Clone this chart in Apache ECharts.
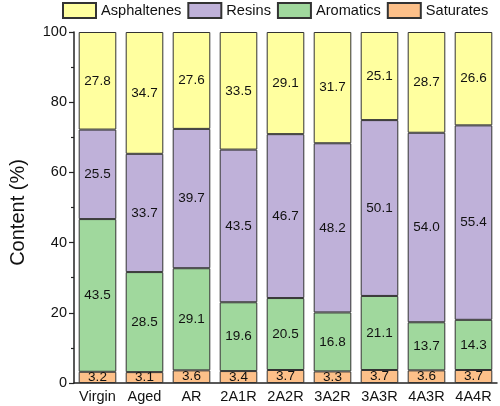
<!DOCTYPE html>
<html><head><meta charset="utf-8">
<script src="https://cdn.jsdelivr.net/npm/echarts@6/dist/echarts.min.js"></script>
<style>html,body{margin:0;padding:0;background:#fff}#c{width:500px;height:406px}</style>
</head><body><div id="c"></div>
<script>
const categories = ['Virgin','Aged','AR','2A1R','2A2R','3A2R','3A3R','4A3R','4A4R'];
const saturates = [3.2,3.1,3.6,3.4,3.7,3.3,3.7,3.6,3.7];
const aromatics = [43.5,28.5,29.1,19.6,20.5,16.8,21.1,13.7,14.3];
const resins = [25.5,33.7,39.7,43.5,46.7,48.2,50.1,54.0,55.4];
const asphaltenes = [27.8,34.7,27.6,33.5,29.1,31.7,25.1,28.7,26.6];
const yTicks = [0,20,40,60,80,100];

const font = 'Arial, "Liberation Sans", sans-serif';
function mk(name, data, color){
  return {name, type:'bar', stack:'t', data, barWidth:'80%',
    itemStyle:{color, borderColor:'#333', borderWidth:1},
    label:{show:true, position:'inside', color:'#111', fontSize:13.5, fontFamily:font,
      formatter:p=>p.value.toFixed(1)}};
}
const chart = echarts.init(document.getElementById('c'), null, {renderer:'canvas'});
chart.setOption({
  animation:false,
  legend:{top:2, left:62, width:460, padding:0, itemWidth:33, itemHeight:15, itemGap:6, icon:'rect',
    textStyle:{fontSize:14.6, fontFamily:font, color:'#111'},
    data:['Asphaltenes','Resins','Aromatics','Saturates']},
  grid:{left:58, right:3, top:32, bottom:23, containLabel:false},
  xAxis:{type:'category', data:categories,
    axisLine:{lineStyle:{color:'#222', width:1.5}}, axisTick:{show:false},
    axisLabel:{fontSize:14.5, fontFamily:font, color:'#111', margin:6, interval:0}},
  yAxis:{type:'value', min:yTicks[0], max:yTicks[yTicks.length-1], interval:20,
    name:'Content (%)', nameLocation:'middle', nameGap:46,
    nameTextStyle:{fontSize:20, fontFamily:font, color:'#111', padding:[0,10,0,0]},
    axisLine:{show:true, lineStyle:{color:'#222', width:1.5}},
    axisTick:{show:true, inside:false, length:5, lineStyle:{color:'#222', width:1.2}},
    minorTick:{show:true, splitNumber:2, length:3, lineStyle:{color:'#222', width:1.2}},
    splitLine:{show:false},
    axisLabel:{fontSize:14.5, fontFamily:font, color:'#111', margin:7}},
  series:[
    mk('Saturates', saturates, '#FDC089'),
    mk('Aromatics', aromatics, '#A0D89D'),
    mk('Resins', resins, '#BFB1D9'),
    mk('Asphaltenes', asphaltenes, '#FFFF9F')
  ]
});
</script></body></html>
